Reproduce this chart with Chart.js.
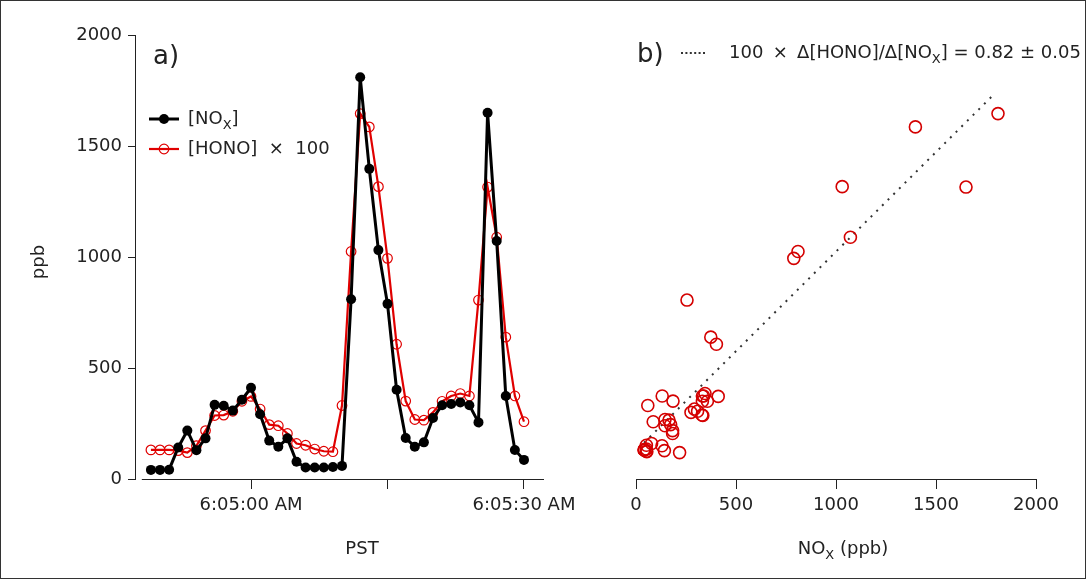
<!DOCTYPE html>
<html lang="en">
<head>
<meta charset="UTF-8">
<title>NOx and HONO</title>
<script src="https://cdn.jsdelivr.net/npm/chart.js"></script>
<style>
    body { margin: 0; background: #fff; }
    #wrap { position: relative; width: 1086px; height: 579px; overflow: hidden; font-family: 'DejaVu Sans', sans-serif; color: #222; }
    #frame { position: absolute; left: 0; top: 0; width: 1086px; height: 579px; box-sizing: border-box; border: 1px solid #333; }
    canvas { position: absolute; top: 0; }
    #chartA { left: 0; }
    #chartB { left: 580px; }
    .txt { position: absolute; white-space: pre; font-size: 18px; line-height: 18px; }
    .big { font-size: 26px; line-height: 26px; }
    .mid { transform: translate(-50%, -50%); }
    sub { font-size: 0.72em; vertical-align: -0.35em; line-height: 0; }
    svg { position: absolute; left: 0; top: 0; }
</style>
</head>
<script>
    // time in seconds after 6:05:00 AM PST
    const seconds = [-11, -10, -9, -8, -7, -6, -5, -4, -3, -2, -1, 0, 1, 2, 3, 4, 5, 6, 7, 8, 9, 10,
        11, 12, 13, 14, 15, 16, 17, 18, 19, 20, 21, 22, 23, 24, 25, 26, 27, 28, 29, 30]
    // [NOx] (ppb)
    const nox = [41, 41, 42, 142, 218, 130, 183, 334, 330, 308, 357, 411, 292, 173, 145, 183, 78, 52, 52, 52, 54, 59,
        810, 1810, 1397, 1031, 789, 402, 185, 145, 165, 275, 332, 338, 345, 332, 255, 1650, 1072, 374, 131, 86]
    // [HONO] x 100 (ppb)
    const hono = [131, 131, 131, 128, 119, 150, 218, 286, 288, 305, 350, 372, 315, 245, 240, 205, 160, 152, 135, 125, 123, 331,
        1025, 1646, 1586, 1317, 994, 607, 351, 268, 265, 300, 350, 374, 385, 374, 806, 1315, 1089, 639, 374, 258]

    // dotted fit line in panel b (end points)
    const fitNox = [40, 1790]
    const fitHono = [163, 1733]

    // axis ticks
    const timeTicks = [0, 15, 30]
    const timeTickLabels = ['6:05:00 AM', '', '6:05:30 AM']
    const ppbTicks = [0, 500, 1000, 1500, 2000]
    const noxTicks = [0, 500, 1000, 1500, 2000]

    const axisStart = -12 // where the time axis line begins
    const fontFamily = "'DejaVu Sans', sans-serif"
    const ink = '#222'

    window.onload = () => {
        const tickFont = { family: fontFamily, size: 18 }

        // time axis line of panel a starts a bit right of the ppb axis
        const baseline = {
            id: 'baseline',
            beforeDatasetsDraw(chart) {
                const { ctx, chartArea, scales } = chart
                const x0 = scales.x.getPixelForValue(axisStart)
                const y = Math.round(chartArea.bottom) + 0.5
                ctx.save()
                ctx.strokeStyle = ink
                ctx.lineWidth = 1
                ctx.beginPath()
                ctx.moveTo(x0, y)
                ctx.lineTo(chartArea.right, y)
                ctx.stroke()
                ctx.restore()
            }
        }

        // panel a: time series
        new Chart(document.getElementById('chartA'), {
            type: 'line',
            data: {
                datasets: [
                    {
                        label: '[NOx]',
                        data: seconds.map((s, i) => ({ x: s, y: nox[i] })),
                        borderColor: '#000',
                        backgroundColor: '#000',
                        borderWidth: 3,
                        pointRadius: 5,
                        pointBorderWidth: 0,
                        pointBackgroundColor: '#000',
                        tension: 0
                    },
                    {
                        label: '[HONO] x 100',
                        data: seconds.map((s, i) => ({ x: s, y: hono[i] })),
                        borderColor: '#e00000',
                        borderWidth: 2.2,
                        pointRadius: 4.8,
                        pointBorderWidth: 1.2,
                        pointBorderColor: '#e00000',
                        pointBackgroundColor: 'rgba(0,0,0,0)',
                        tension: 0
                    }
                ]
            },
            options: {
                responsive: false,
                animation: false,
                layout: { padding: { top: 35, right: 76, left: 0, bottom: 0 } },
                plugins: { legend: { display: false }, tooltip: { enabled: false } },
                scales: {
                    x: {
                        type: 'linear',
                        min: -12.75,
                        max: 32.2,
                        border: { display: false },
                        grid: { drawOnChartArea: false, tickLength: 10, color: ink, tickColor: ink },
                        afterBuildTicks: s => { s.ticks = timeTicks.map(v => ({ value: v })) },
                        ticks: {
                            autoSkip: false,
                            maxRotation: 0,
                            padding: 6,
                            color: ink,
                            font: tickFont,
                            callback: v => timeTickLabels[timeTicks.indexOf(v)]
                        },
                        afterFit: s => { s.height = 100 }
                    },
                    y: {
                        min: 0,
                        max: 2000,
                        border: { display: true, color: ink },
                        grid: { drawOnChartArea: false, tickLength: 7, color: ink, tickColor: ink },
                        afterBuildTicks: s => { s.ticks = ppbTicks.map(v => ({ value: v })) },
                        ticks: { padding: 6, color: ink, font: tickFont, callback: v => String(v) },
                        afterFit: s => { s.width = 135 }
                    }
                }
            },
            plugins: [baseline]
        })

        // panel b: scatter
        new Chart(document.getElementById('chartB'), {
            type: 'scatter',
            data: {
                datasets: [
                    {
                        label: 'HONO vs NOx',
                        data: nox.map((n, i) => ({ x: n, y: hono[i] })),
                        pointRadius: 6,
                        pointBorderWidth: 1.6,
                        pointBorderColor: '#d40000',
                        pointBackgroundColor: 'rgba(0,0,0,0)',
                        showLine: false
                    },
                    {
                        type: 'line',
                        label: 'fit',
                        data: fitNox.map((n, i) => ({ x: n, y: fitHono[i] })),
                        borderColor: '#333',
                        borderWidth: 2,
                        borderDash: [2, 6],
                        pointRadius: 0,
                        fill: false
                    }
                ]
            },
            options: {
                responsive: false,
                animation: false,
                layout: { padding: { top: 35, right: 50, left: 56, bottom: 0 } },
                plugins: { legend: { display: false }, tooltip: { enabled: false } },
                scales: {
                    x: {
                        type: 'linear',
                        min: 0,
                        max: 2000,
                        border: { display: true, color: ink },
                        grid: { drawOnChartArea: false, tickLength: 10, color: ink, tickColor: ink },
                        afterBuildTicks: s => { s.ticks = noxTicks.map(v => ({ value: v })) },
                        ticks: { autoSkip: false, maxRotation: 0, padding: 6, color: ink, font: tickFont, callback: v => String(v) },
                        afterFit: s => { s.height = 100 }
                    },
                    y: { min: 0, max: 2000, display: false }
                }
            }
        })
    }
</script>
<body>
    <div id="wrap">
        <canvas id="chartA" width="620" height="579"></canvas>
        <canvas id="chartB" width="506" height="579"></canvas>

        <svg width="1086" height="579">
            <line x1="149" y1="119" x2="179" y2="119" stroke="#000" stroke-width="3" />
            <circle cx="164" cy="119" r="5" fill="#000" />
            <line x1="149" y1="149" x2="179" y2="149" stroke="#e00000" stroke-width="2.2" />
            <circle cx="164" cy="149" r="4.8" fill="none" stroke="#e00000" stroke-width="1.2" />
            <line x1="681" y1="53" x2="706" y2="53" stroke="#333" stroke-width="2" stroke-dasharray="2 2.4" />
        </svg>

        <div class="txt big" style="left:153px; top:42px">a)</div>
        <div class="txt" style="left:188px; top:109px">[NO<sub>X</sub>]</div>
        <div class="txt" style="left:188px; top:139px">[HONO]  ×  100</div>

        <div class="txt big" style="left:637px; top:40px">b)</div>
        <div class="txt" style="left:729px; top:43px">100 &#8201;× &#8201;Δ[HONO]/Δ[NO<sub>X</sub>] = 0.82 ± 0.05</div>

        <div class="txt mid" style="left:38px; top:262px; transform: translate(-50%, -50%) rotate(-90deg)">ppb</div>
        <div class="txt mid" style="left:362px; top:548px">PST</div>
        <div class="txt mid" style="left:843px; top:548px">NO<sub>X</sub> (ppb)</div>

        <div id="frame"></div>
    </div>
</body>
</html>
